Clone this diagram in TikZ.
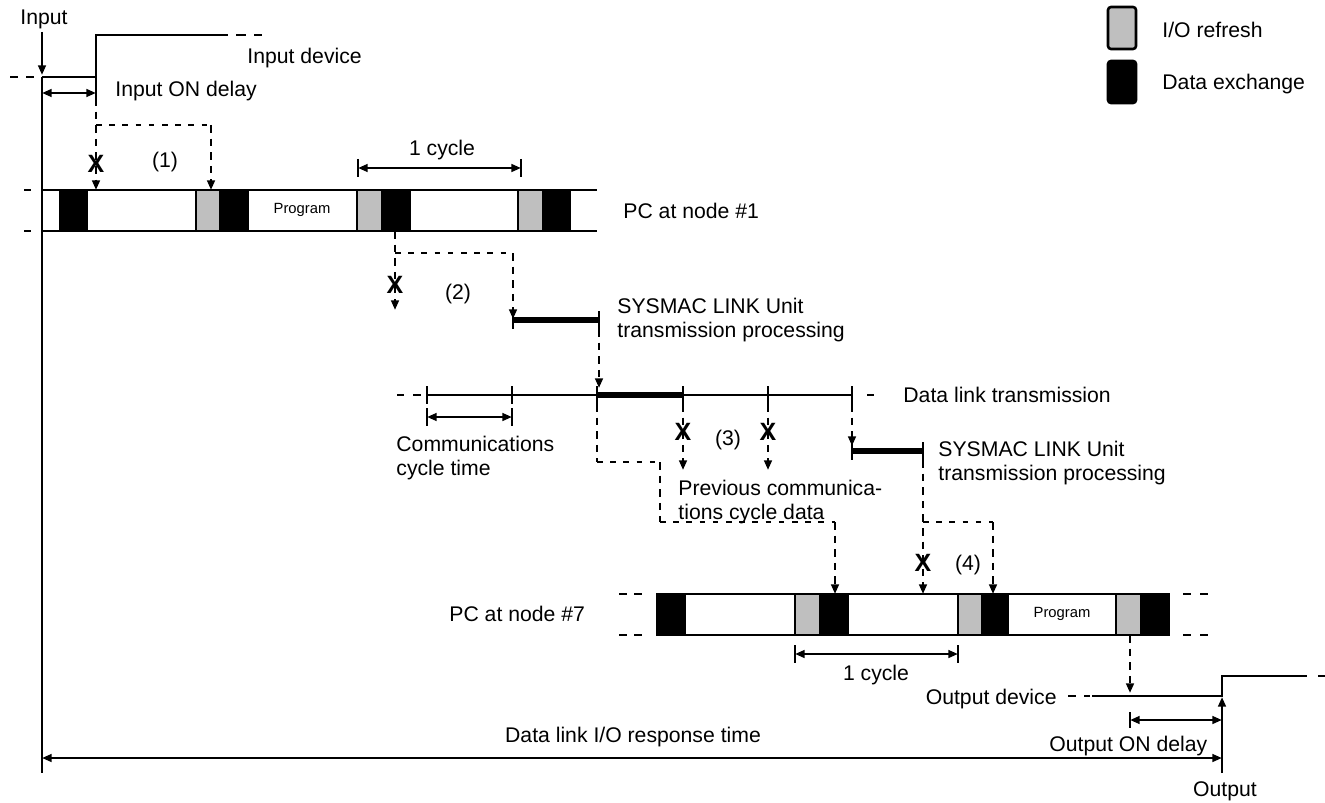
\documentclass[tikz,border=0pt]{standalone}
\usepackage{fontspec}
\setmainfont{Liberation Sans}
\usetikzlibrary{arrows.meta}
\begin{document}
\begin{tikzpicture}[x=0.5pt,y=-0.5pt,
  >={Triangle[length=4.8pt,width=3.8pt]},
  lbl/.style={font=\fontsize{10.6}{12.6}\selectfont,inner sep=0pt},
  prog/.style={font=\fontsize{7.4}{8}\selectfont,inner sep=0pt},
  xmk/.style={font=\fontsize{12.5}{12.5}\selectfont\bfseries,inner sep=0pt},
  vd/.style={line width=1.3pt,dash pattern=on 3.8pt off 3pt},
  hd/.style={line width=0.8pt,dash pattern=on 2.8pt off 3.8pt},
  sig/.style={line width=1.3pt},
  bl/.style={line width=1.4pt},
  tk/.style={line width=1.3pt},
  gb/.style={draw=black,line width=1.3pt,fill=black!25},
  kb/.style={draw=black,line width=1.3pt,fill=black},
  tb/.style={line width=3pt}]
\useasboundingbox (0,0) rectangle (1325,802);

% ---------- legend ----------
\filldraw[gb,rounded corners=1.5pt] (1108,7) rectangle (1136,49);
\filldraw[kb,rounded corners=1.5pt] (1108,61) rectangle (1136,103);
\node[lbl,anchor=base west] (lgio) at (1162,38) {I/O refresh};
\node[lbl,anchor=base west] (lgdx) at (1162,90) {Data exchange};

% ---------- input ----------
\node[lbl,anchor=base] (tin) at (44,25) {Input};
\coordinate (inA) at (42,32);
\coordinate (inB) at (42,75);
\draw[sig,->] (inA) -- (inB);
\coordinate (axTop) at (42,77);
\coordinate (axBot) at (42,773);
\draw[line width=1.4pt] (axTop) -- (axBot);
% input device signal
\draw[sig,dash pattern=on 4pt off 4pt] (10,77) -- (42,77);
\coordinate (stepLo) at (96,77);
\coordinate (stepHi) at (96,35);
\draw[sig] (axTop) -- (stepLo) -- (stepHi) -- (218,35);
\draw[sig,dash pattern=on 5pt off 4pt] (218,35) -- (262,35);
\node[lbl,anchor=base west] (tindev) at (247,64) {Input device};
\node[lbl,anchor=base west] (tondelay) at (115,97) {Input ON delay};
\draw[sig] (stepLo) -- (96,98);
\draw[sig,<->] (42,93) -- (96,93);

% ---------- PC at node #1 ----------
\draw[bl] (42,190) -- (597,190);
\draw[bl] (42,231) -- (597,231);
\draw[bl] (24,190) -- (31,190);
\draw[bl] (24,231) -- (31,231);
\filldraw[kb] (60,190) rectangle (87,231);
\filldraw[gb] (196,190) rectangle (220,231);
\filldraw[kb] (220,190) rectangle (248,231);
\filldraw[gb] (357,190) rectangle (382,231);
\filldraw[kb] (382,190) rectangle (410,231);
\filldraw[gb] (518,190) rectangle (543,231);
\filldraw[kb] (543,190) rectangle (570,231);
\node[prog] (prog1) at (302,210) {Program};
\node[lbl,anchor=base west] (tpc1) at (623,219) {PC at node \#1};
% 1 cycle
\draw[tk] (358,159) -- (358,177);
\draw[tk] (521,159) -- (521,177);
\draw[sig,<->] (358,168) -- (521,168);
\node[lbl,anchor=base] (tcyc1) at (442,156) {1 cycle};

% (1)
\coordinate (d1a) at (96,98);
\coordinate (d1b) at (96,190);
\draw[vd,->] (d1a) -- (d1b);
\draw[hd] (96,125) -- (211,125);
\draw[vd,->] (211,125) -- (211,190);
\node[xmk] (x1) at (96,164) {X};
\node[lbl,anchor=base] (t1) at (165,168) {(1)};

% (2)
\draw[vd,->] (395,231) -- (395,310);
\draw[hd] (395,253) -- (513,253);
\draw[vd,->] (513,253) -- (513,319);
\node[xmk] (x2) at (395,285) {X};
\node[lbl,anchor=base] (t2) at (458,299) {(2)};
% SYSMAC LINK unit 1
\draw[tb] (513,320) -- (599,320);
\draw[tk] (513,311) -- (513,329);
\draw[tk] (599,311) -- (599,329);
\node[lbl,anchor=base west] (ts1a) at (617,313) {SYSMAC LINK Unit};
\node[lbl,anchor=base west] (ts1b) at (617,337) {transmission processing};
\draw[vd,->] (599,329) -- (599,388);

% ---------- data link transmission ----------
\draw[sig] (397,395) -- (404,395);
\draw[sig] (413,395) -- (421,395);
\draw[sig] (427,395) -- (852,395);
\draw[line width=2.8pt] (597,395) -- (683,395);
\foreach \xx in {427,512,597,683,768,852} \draw[tk] (\xx,386) -- (\xx,404);
\draw[sig] (867,395) -- (874,395);
\node[lbl,anchor=base west] (tdl) at (903,402) {Data link transmission};
% comms cycle time
\draw[tk] (427,408) -- (427,426);
\draw[tk] (512,408) -- (512,426);
\draw[sig,<->] (427,417) -- (512,417);
\node[lbl,anchor=base west] (tc1) at (396,451) {Communications};
\node[lbl,anchor=base west] (tc2) at (396,475) {cycle time};

% (3)
\draw[vd,->] (683,404) -- (683,470);
\draw[vd,->] (768,404) -- (768,470);
\node[xmk] (x3a) at (683,432) {X};
\node[xmk] (x3b) at (768,432) {X};
\node[lbl,anchor=base] (t3) at (728,445) {(3)};
% previous cycle data path
\draw[vd] (597,404) -- (597,462);
\draw[hd] (597,462) -- (660,462);
\draw[vd] (660,462) -- (660,522);
\draw[hd] (660,522) -- (835,522);
\draw[vd,->] (835,522) -- (835,594);
\node[lbl,anchor=base west] (tp1) at (678,495) {Previous communica-};
\node[lbl,anchor=base west] (tp2) at (678,519) {tions cycle data};

% SYSMAC LINK unit 2
\draw[vd,->] (852,404) -- (852,446);
\draw[tb] (852,451) -- (923,451);
\draw[tk] (852,442) -- (852,460);
\draw[tk] (923,442) -- (923,460);
\node[lbl,anchor=base west] (ts2a) at (938,456) {SYSMAC LINK Unit};
\node[lbl,anchor=base west] (ts2b) at (938,480) {transmission processing};

% (4)
\draw[vd,->] (923,460) -- (923,594);
\draw[hd] (923,522) -- (993,522);
\draw[vd,->] (993,522) -- (993,594);
\node[xmk] (x4) at (923,563) {X};
\node[lbl,anchor=base] (t4) at (968,570) {(4)};

% ---------- PC at node #7 ----------
\draw[bl] (657,594) -- (1169,594);
\draw[bl] (657,635) -- (1169,635);
\draw[bl] (619,594) -- (627,594);
\draw[bl] (634,594) -- (642,594);
\draw[bl] (619,635) -- (627,635);
\draw[bl] (634,635) -- (642,635);
\draw[bl] (1183,594) -- (1191,594);
\draw[bl] (1200,594) -- (1208,594);
\draw[bl] (1183,635) -- (1191,635);
\draw[bl] (1200,635) -- (1208,635);
\filldraw[kb] (657,594) rectangle (685,635);
\filldraw[gb] (795,594) rectangle (820,635);
\filldraw[kb] (820,594) rectangle (848,635);
\filldraw[gb] (958,594) rectangle (982,635);
\filldraw[kb] (982,594) rectangle (1008,635);
\filldraw[gb] (1116,594) rectangle (1141,635);
\filldraw[kb] (1141,594) rectangle (1169,635);
\node[prog] (prog7) at (1062,614) {Program};
\node[lbl,anchor=base west] (tpc7) at (449,621) {PC at node \#7};
% 1 cycle
\draw[tk] (795,645) -- (795,663);
\draw[tk] (958,645) -- (958,663);
\draw[sig,<->] (795,654) -- (958,654);
\node[lbl,anchor=base] (tcyc7) at (876,680) {1 cycle};

% ---------- output ----------
\draw[vd,->] (1130,635) -- (1130,693);
\draw[sig] (1068,696) -- (1076,696);
\draw[sig] (1084,696) -- (1090,696);
\coordinate (oLo) at (1222,696);
\coordinate (oHi) at (1222,676);
\draw[sig] (1092,696) -- (oLo) -- (oHi) -- (1307,676);
\draw[sig] (1318,676) -- (1325,676);
\node[lbl,anchor=base east] (toutdev) at (1057,704) {Output device};
\coordinate (outBot) at (1222,773);
\draw[sig,->] (outBot) -- (1222,697);
\draw[tk] (1130,712) -- (1130,728);
\draw[sig,<->] (1130,720) -- (1222,720);
\node[lbl,anchor=base west] (toutdelay) at (1049,751) {Output ON delay};
\draw[sig,<->] (42,758) -- (1222,758);
\node[lbl,anchor=base] (tresp) at (633,742) {Data link I/O response time};
\node[lbl,anchor=base] (tout) at (1225,796) {Output};
\end{tikzpicture}
\end{document}
